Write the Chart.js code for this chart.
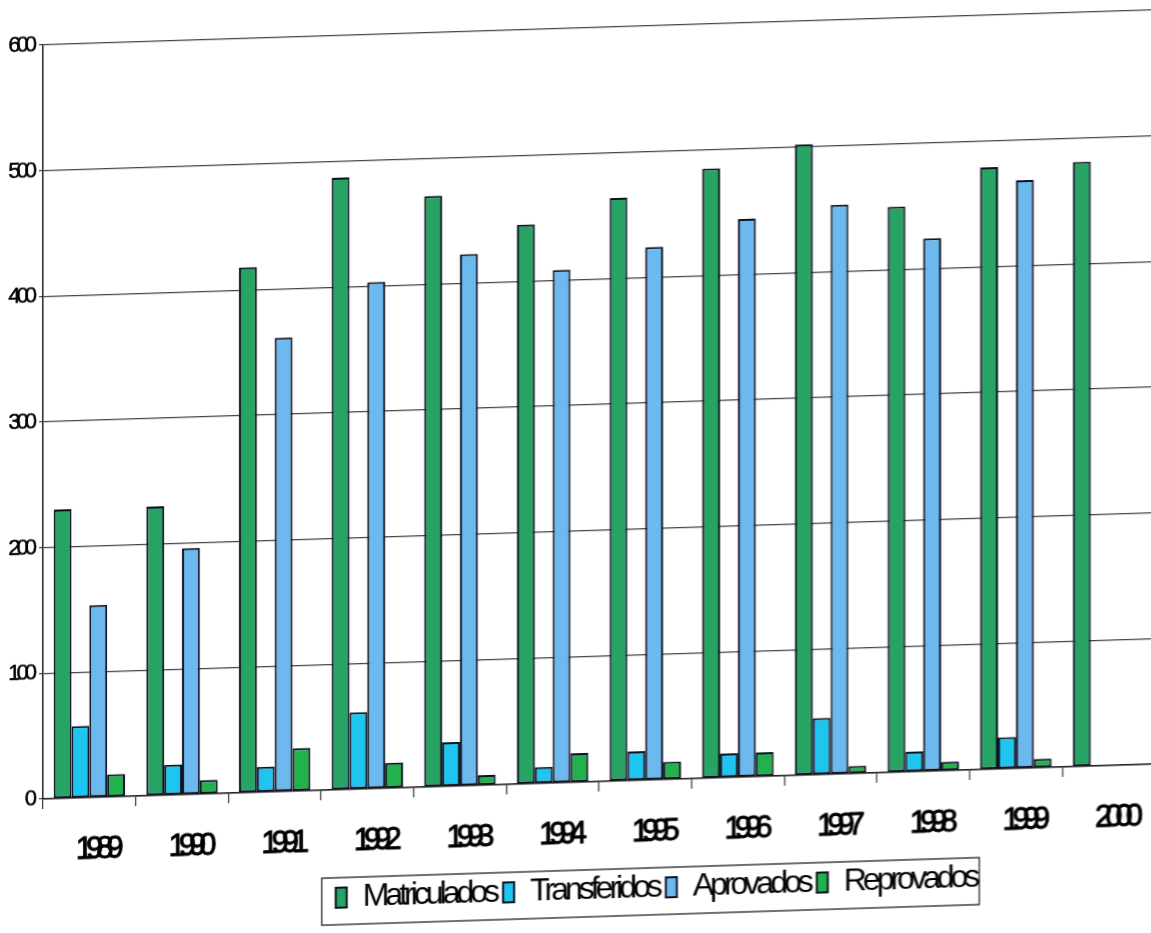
<!DOCTYPE html>
<html>
<head>
<meta charset="utf-8">
<script src="https://cdn.jsdelivr.net/npm/chart.js@4.4.1/dist/chart.umd.min.js"></script>
<style>
  html, body { margin: 0; padding: 0; background: #fff; overflow: hidden; width: 1151px; height: 933px; }
  #wrap { position: absolute; left: 0; top: 0; width: 1159px; height: 946px;
          transform-origin: 43px 799px; transform: skewY(-1.8deg); }
  canvas { display: block; }
</style>
</head>
<body>
<div id="wrap"><canvas id="grafico" width="1159" height="946"></canvas></div>
<script>
// Anos letivos
const anos = ['1989', '1990', '1991', '1992', '1993', '1994', '1995', '1996', '1997', '1998', '1999', '2000'];

// Alunos por situação
const matriculados  = [230, 230, 418, 487, 470, 445, 464, 485, 502, 450, 479, 481];
const transferidos  = [57, 24, 20, 61, 35, 13, 23, 19, 45, 16, 25, null];
const aprovados     = [153, 196, 361, 403, 423, 408, 424, 444, 453, 424, 468, null];
const reprovados    = [18, 11, 34, 20, 8, 23, 14, 19, 6, 7, 7, null];

// Eixo vertical
const escalaMin = 0;
const escalaMax = 600;
const escalaPasso = 100;

const FONTE = '"Liberation Sans", Arial, sans-serif';
const CONTORNO = '#0c1020';

// Tight, condensed lettering: legend and value axis first, the year labels
// (drawn after the bars) even tighter
const letraCondensada = {
  id: 'letraCondensada',
  beforeUpdate(chart, args, opts) { chart.ctx.letterSpacing = opts.geral; },
  beforeDraw(chart, args, opts) { chart.ctx.letterSpacing = opts.geral; },
  afterDatasetsDraw(chart, args, opts) { chart.ctx.letterSpacing = opts.anos; },
  afterDraw(chart, args, opts) { chart.ctx.letterSpacing = opts.geral; }
};

// Places the legend under the years and frames it with a thin box
const legendaEmCaixa = {
  id: 'legendaEmCaixa',
  afterLayout(chart, args, opts) {
    const lg = chart.legend;
    const dx = opts.centroX - (lg.left + lg.right) / 2;
    const dy = opts.topo - lg.top;
    lg.left += dx; lg.right += dx;
    lg.top += dy; lg.bottom += dy;
  },
  afterDraw(chart, args, opts) {
    const lg = chart.legend;
    const hb = lg.legendHitBoxes;
    if (!hb || !hb.length) return;
    const ultimo = hb[hb.length - 1];
    const meio = hb[0].top + hb[0].height / 2;
    const x0 = hb[0].left - opts.margemEsq;
    const x1 = ultimo.left + ultimo.width + opts.margemDir;
    const y0 = meio - opts.acima;
    const y1 = meio + opts.abaixo;
    const ctx = chart.ctx;
    ctx.save();
    ctx.strokeStyle = '#222';
    ctx.lineWidth = 1.3;
    ctx.strokeRect(x0, y0, x1 - x0, y1 - y0);
    ctx.restore();
  }
};

const serie = (rotulo, dados, cor) => ({
  label: rotulo,
  data: dados,
  backgroundColor: cor,
  borderColor: CONTORNO,
  borderWidth: 2,
  borderSkipped: false
});

new Chart(document.getElementById('grafico'), {
  type: 'bar',
  data: {
    labels: anos,
    datasets: [
      serie('Matriculados', matriculados, '#27a364'),
      serie('Transferidos', transferidos, '#1ec6ef'),
      serie('Aprovados', aprovados, '#6cb9f0'),
      serie('Reprovados', reprovados, '#22b24c')
    ]
  },
  options: {
    responsive: false,
    animation: false,
    devicePixelRatio: 1,
    layout: { padding: { top: 45, left: 0, right: 0, bottom: 0 } },
    datasets: { bar: { categoryPercentage: 0.77, barPercentage: 1 } },
    scales: {
      x: {
        grid: { offset: true, drawOnChartArea: false, drawTicks: true, tickLength: 10, color: '#333', lineWidth: 1.2 },
        border: { display: true, color: '#222', width: 1.5 },
        ticks: { z: 1, color: '#000', font: { family: FONTE, size: 31 }, padding: 24,
                 textStrokeColor: '#000', textStrokeWidth: 0.9,
                 labelOffset: 7, maxRotation: 0, autoSkip: false },
        afterFit(s) { s.height = s.chart.height - s.chart.legend.height - 799; }
      },
      y: {
        min: escalaMin,
        max: escalaMax,
        ticks: { stepSize: escalaPasso, color: '#000', font: { family: FONTE, size: 22 }, padding: 6,
                 textStrokeColor: '#000', textStrokeWidth: 0.5 },
        grid: { color: '#444', lineWidth: 1.2, tickLength: 4 },
        border: { display: true, color: '#222', width: 1.5 },
        afterFit(s) { s.width = 43; }
      }
    },
    plugins: {
      legend: {
        position: 'bottom',
        labels: { color: '#000', font: { family: FONTE, size: 32 }, boxWidth: 11, boxHeight: 20, padding: 7 }
      },
      tooltip: { enabled: false },
      letraCondensada: { geral: '-4px', anos: '-7px' },
      legendaEmCaixa: { centroX: 656, topo: 884, margemEsq: 14, margemDir: 3, acima: 20, abaixo: 27 }
    }
  },
  plugins: [letraCondensada, legendaEmCaixa]
});
</script>
</body>
</html>
